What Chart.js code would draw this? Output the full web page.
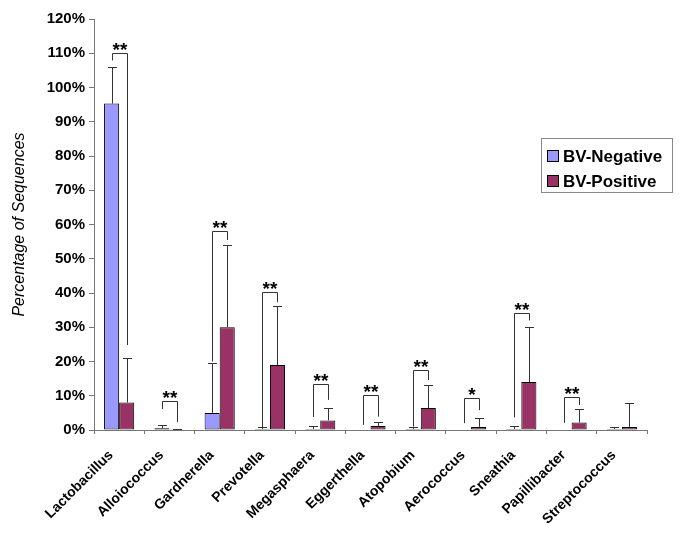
<!DOCTYPE html>
<html>
<head>
<meta charset="utf-8">
<script src="https://cdn.jsdelivr.net/npm/chart.js@4"></script>
<style>
  html, body { margin: 0; padding: 0; background: #fff; }
  #wrap { width: 685px; height: 534px; }
</style>
</head>
<body>
<div id="wrap"><canvas id="myChart" width="685" height="534"></canvas></div>
<script>
// genera on the x axis
let labels = ['Lactobacillus', 'Alloiococcus', 'Gardnerella', 'Prevotella', 'Megasphaera',
    'Eggerthella', 'Atopobium', 'Aerococcus', 'Sneathia', 'Papillibacter', 'Streptococcus'];

// mean percentage of sequences
let negValues = [95.3, 0.5, 5.0, 0.3, 0.3, 0, 0.3, 0, 0.3, 0, 0.3];
let posValues = [8.0, 0.2, 30.0, 19.0, 2.8, 1.2, 6.4, 0.9, 14.0, 2.2, 0.9];

// upper error (SD)
let negSD = [10.7, 1.0, 14.6, 0.5, 0.9, 0, 0.5, 0, 0.8, 0, 0.5];
let posSD = [13.0, 0.1, 24.0, 17.3, 3.5, 1.1, 6.6, 2.5, 16.2, 3.8, 7.1];

// significance brackets: top line, left leg end, right leg end, stars
let bracketTop   = [110, 8.6, 58, 40.3, 13.5, 10.2, 17.4, 9.2, 34.1, 9.6, null];
let bracketLeft  = [107.9, 6.1, 20, 0.6, 3.8, 1.5, 1.0, 2.0, 3.7, 2.1, null];
let bracketRight = [24.8, 2.3, 55.5, 37.3, 8.8, 3.9, 14.6, 5.8, 32.0, 7.3, null];
let stars        = ['**', '**', '**', '**', '**', '**', '**', '*', '**', '**', ''];

let yTicks = [0, 10, 20, 30, 40, 50, 60, 70, 80, 90, 100, 110, 120];

let colors = ['#9999FF', '#993366'];

const extras = {
    id: 'extras',
    afterDatasetsDraw(chart) {
        const ctx = chart.ctx;
        const y = chart.scales.y;
        const m0 = chart.getDatasetMeta(0);
        const m1 = chart.getDatasetMeta(1);
        ctx.save();
        ctx.lineWidth = 1;
        ctx.strokeStyle = '#333';
        // error bars
        [[m0, negValues, negSD], [m1, posValues, posSD]].forEach(function (s) {
            s[0].data.forEach(function (bar, i) {
                if (!s[2][i]) return;
                let xx = Math.round(bar.x) + 0.5;
                let top = Math.round(y.getPixelForValue(s[1][i] + s[2][i])) + 0.5;
                let base = y.getPixelForValue(s[1][i]);
                ctx.beginPath();
                ctx.moveTo(xx, base);
                ctx.lineTo(xx, top);
                ctx.moveTo(xx - 4.5, top);
                ctx.lineTo(xx + 4.5, top);
                ctx.stroke();
            });
        });
        // brackets
        ctx.font = 'bold 19px "Liberation Sans", Arial, sans-serif';
        ctx.textAlign = 'center';
        ctx.textBaseline = 'alphabetic';
        ctx.fillStyle = '#000';
        labels.forEach(function (l, i) {
            if (bracketTop[i] == null) return;
            let xl = Math.round(m0.data[i].x) + 0.5;
            let xr = Math.round(m1.data[i].x) + 0.5;
            let yt = Math.round(y.getPixelForValue(bracketTop[i])) + 0.5;
            ctx.beginPath();
            ctx.moveTo(xl, y.getPixelForValue(bracketLeft[i]));
            ctx.lineTo(xl, yt);
            ctx.lineTo(xr, yt);
            ctx.lineTo(xr, y.getPixelForValue(bracketRight[i]));
            ctx.stroke();
            ctx.fillText(stars[i], (xl + xr) / 2, yt + 2);
        });
        ctx.restore();
    },
    afterDraw(chart) {
        // legend box inside plot
        const ctx = chart.ctx;
        ctx.save();
        ctx.fillStyle = '#fff';
        ctx.fillRect(541, 138, 132, 54);
        ctx.strokeStyle = '#888';
        ctx.lineWidth = 1;
        ctx.strokeRect(541.5, 138.5, 131, 54);
        ctx.font = 'bold 17px "Liberation Sans", Arial, sans-serif';
        ctx.textBaseline = 'middle';
        chart.data.datasets.forEach(function (ds, i) {
            let cy = 156 + i * 25;
            ctx.fillStyle = ds.backgroundColor;
            ctx.fillRect(547, cy - 6, 11, 11);
            ctx.strokeStyle = '#000';
            ctx.strokeRect(547.5, cy - 5.5, 11, 11);
            ctx.fillStyle = '#000';
            ctx.fillText(ds.label, 563, cy + 1);
        });
        ctx.restore();
    }
};

function chartMaker() {
    let myChart = document.getElementById('myChart').getContext('2d');

    Chart.defaults.font.family = '"Liberation Sans", Arial, sans-serif';
    Chart.defaults.color = '#000';

    new Chart(myChart, {
        type: 'bar',
        data: {
            labels: labels,
            datasets: [
                { label: 'BV-Negative', data: negValues, backgroundColor: colors[0],
                  borderColor: '#000', borderWidth: 1, borderSkipped: false },
                { label: 'BV-Positive', data: posValues, backgroundColor: colors[1],
                  borderColor: '#000', borderWidth: 1, borderSkipped: false }
            ]
        },
        options: {
            responsive: false,
            animation: false,
            layout: { padding: { top: 19, right: 38, left: 0, bottom: 0 } },
            categoryPercentage: 0.6,
            barPercentage: 1.0,
            plugins: { legend: { display: false }, tooltip: { enabled: false } },
            scales: {
                x: {
                    offset: true,
                    grid: { offset: true, drawOnChartArea: false, drawTicks: true, tickLength: 4, color: '#777' },
                    border: { color: '#777' },
                    ticks: { maxRotation: 45, minRotation: 45, autoSkip: false, padding: 13, labelOffset: -8,
                             font: { size: 14, weight: 'bold' } },
                    afterFit(s) { s.height = 104; }
                },
                y: {
                    min: 0, max: 120,
                    afterBuildTicks(s) { s.ticks = yTicks.map(function (v) { return { value: v }; }); },
                    grid: { drawOnChartArea: false, drawTicks: true, tickLength: 5, color: '#777' },
                    border: { color: '#777' },
                    ticks: { padding: 4, font: { size: 15, weight: 'bold' },
                             callback: function (v) { return v + '%'; } },
                    title: { display: true, text: 'Percentage of Sequences',
                             font: { size: 16, style: 'italic' }, padding: { top: 10, bottom: 0 } },
                    afterFit(s) { s.width = 94; }
                }
            }
        },
        plugins: [extras]
    });
}

chartMaker();
</script>
</body>
</html>
